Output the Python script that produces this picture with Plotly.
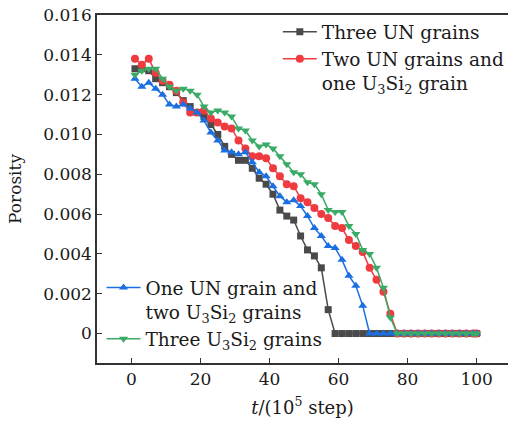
import plotly.graph_objects as go

# Simulation step (units of 1e5 steps)
steps = [1, 3, 5, 7, 9, 11, 13, 15, 17, 19, 21, 23, 25, 27, 29, 31, 33, 35, 37, 39,
         41, 43, 45, 47, 49, 51, 53, 55, 57, 59, 61, 63, 65, 67, 69, 71, 73, 75, 77, 79,
         81, 83, 85, 87, 89, 91, 93, 95, 97, 99, 100]

# Porosity for each grain configuration
three_un = [0.0133, 0.0133, 0.0132, 0.0128, 0.0126, 0.0124, 0.0121, 0.0117, 0.0114, 0.0111,
            0.0109, 0.0105, 0.0100, 0.0094, 0.0090, 0.0087, 0.0087, 0.0083, 0.0078, 0.0075,
            0.0070, 0.0062, 0.0059, 0.0057, 0.0049, 0.0042, 0.0039, 0.0033, 0.0012, 0.0,
            0.0, 0.0, 0.0, 0.0, 0.0, 0.0, 0.0, 0.0, 0.0, 0.0,
            0.0, 0.0, 0.0, 0.0, 0.0, 0.0, 0.0, 0.0, 0.0, 0.0, 0.0]

two_un_one_usi = [0.0138, 0.0135, 0.0138, 0.0131, 0.0127, 0.0125, 0.0122, 0.0116, 0.0111, 0.0111,
                  0.0112, 0.0108, 0.0106, 0.0104, 0.0103, 0.0097, 0.0093, 0.0089, 0.0089, 0.0088,
                  0.0083, 0.0079, 0.0075, 0.0074, 0.0068, 0.0066, 0.0063, 0.0060, 0.0058, 0.0054,
                  0.0053, 0.0047, 0.0044, 0.0041, 0.0033, 0.0027, 0.0021, 0.0010, 0.0, 0.0,
                  0.0, 0.0, 0.0, 0.0, 0.0, 0.0, 0.0, 0.0, 0.0, 0.0, 0.0]

one_un_two_usi = [0.0128, 0.0124, 0.0126, 0.0123, 0.0120, 0.0115, 0.0114, 0.0115, 0.0113, 0.0111,
                  0.0107, 0.0101, 0.0097, 0.0092, 0.0091, 0.0090, 0.0091, 0.0086, 0.0081, 0.0079,
                  0.0074, 0.0069, 0.0066, 0.0067, 0.0064, 0.0059, 0.0053, 0.0049, 0.0044, 0.0043,
                  0.0037, 0.0029, 0.0024, 0.0014, 0.0, 0.0, 0.0, 0.0, 0.0, 0.0,
                  0.0, 0.0, 0.0, 0.0, 0.0, 0.0, 0.0, 0.0, 0.0, 0.0, 0.0]

three_usi = [0.0130, 0.0132, 0.0133, 0.0133, 0.0128, 0.0124, 0.0122, 0.0123, 0.0122, 0.0120,
             0.0114, 0.0111, 0.0112, 0.0111, 0.0109, 0.0103, 0.0102, 0.0097, 0.0094, 0.0095,
             0.0093, 0.0089, 0.0085, 0.0081, 0.0080, 0.0076, 0.0075, 0.0070, 0.0062, 0.0061,
             0.0061, 0.0054, 0.0050, 0.0042, 0.0040, 0.0033, 0.0023, 0.0008, 0.0, 0.0,
             0.0, 0.0, 0.0, 0.0, 0.0, 0.0, 0.0, 0.0, 0.0, 0.0, 0.0]

y_ticks = [0, 0.002, 0.004, 0.006, 0.008, 0.010, 0.012, 0.014, 0.016]
y_tick_text = ["0", "0.002", "0.004", "0.006", "0.008", "0.010", "0.012", "0.014", "0.016"]
x_ticks = [0, 20, 40, 60, 80, 100]

FONT = "DejaVu Serif"

fig = go.Figure()

fig.add_trace(go.Scatter(
    x=steps, y=three_un, mode="lines+markers", name="Three UN grains",
    line=dict(color="#4a4a4a", width=1.5),
    marker=dict(symbol="square", size=7, color="#4a4a4a"),
    legend="legend",
))
fig.add_trace(go.Scatter(
    x=steps, y=two_un_one_usi, mode="lines+markers",
    name="Two UN grains and<br>one U<sub>3</sub>Si<sub>2</sub> grain",
    line=dict(color="#ef3b40", width=1.5),
    marker=dict(symbol="circle", size=8, color="#ef3b40"),
    legend="legend",
))
fig.add_trace(go.Scatter(
    x=steps, y=one_un_two_usi, mode="lines+markers",
    name="One UN grain and<br>two U<sub>3</sub>Si<sub>2</sub> grains",
    line=dict(color="#1b6fe0", width=1.5),
    marker=dict(symbol="triangle-up", size=8, color="#1b6fe0"),
    legend="legend2",
))
fig.add_trace(go.Scatter(
    x=steps, y=three_usi, mode="lines+markers",
    name="Three U<sub>3</sub>Si<sub>2</sub> grains",
    line=dict(color="#3aab66", width=1.5),
    marker=dict(symbol="triangle-down", size=8, color="#3aab66"),
    legend="legend2",
))

legend_common = dict(
    font=dict(family=FONT, size=18.5, color="#1a1a1a"),
    bgcolor="rgba(0,0,0,0)",
    borderwidth=0,
    valign="top",
    tracegroupgap=0,
    itemwidth=34,
    itemclick=False,
)

fig.update_layout(
    width=510, height=422,
    margin=dict(l=97, r=0, t=15, b=59),
    paper_bgcolor="white",
    plot_bgcolor="white",
    font=dict(family=FONT, size=17, color="#1a1a1a"),
    showlegend=True,
    legend=dict(x=0.44, y=1.005, xanchor="left", yanchor="top", **legend_common),
    legend2=dict(x=0.011, y=0.27, xanchor="left", yanchor="top", **legend_common),
    xaxis=dict(
        range=[-10, 109.1],
        tickvals=x_ticks,
        ticks="inside", ticklen=5, tickwidth=1, tickcolor="#333",
        showline=True, linecolor="#333", linewidth=1.5, mirror=True,
        showgrid=False, zeroline=False,
        tickfont=dict(family=FONT, size=17),
        title=dict(text="<i>t</i>/(10<sup>5</sup> step)", font=dict(family=FONT, size=18), standoff=13),
    ),
    yaxis=dict(
        range=[-0.00148, 0.016],
        tickvals=y_ticks, ticktext=y_tick_text,
        ticks="inside", ticklen=5, tickwidth=1, tickcolor="#333",
        showline=True, linecolor="#333", linewidth=1.5, mirror=False,
        showgrid=False, zeroline=False,
        tickfont=dict(family=FONT, size=17),
        title=dict(text="Porosity", font=dict(family=FONT, size=17), standoff=17),
    ),
)

fig.write_html("out.html")
